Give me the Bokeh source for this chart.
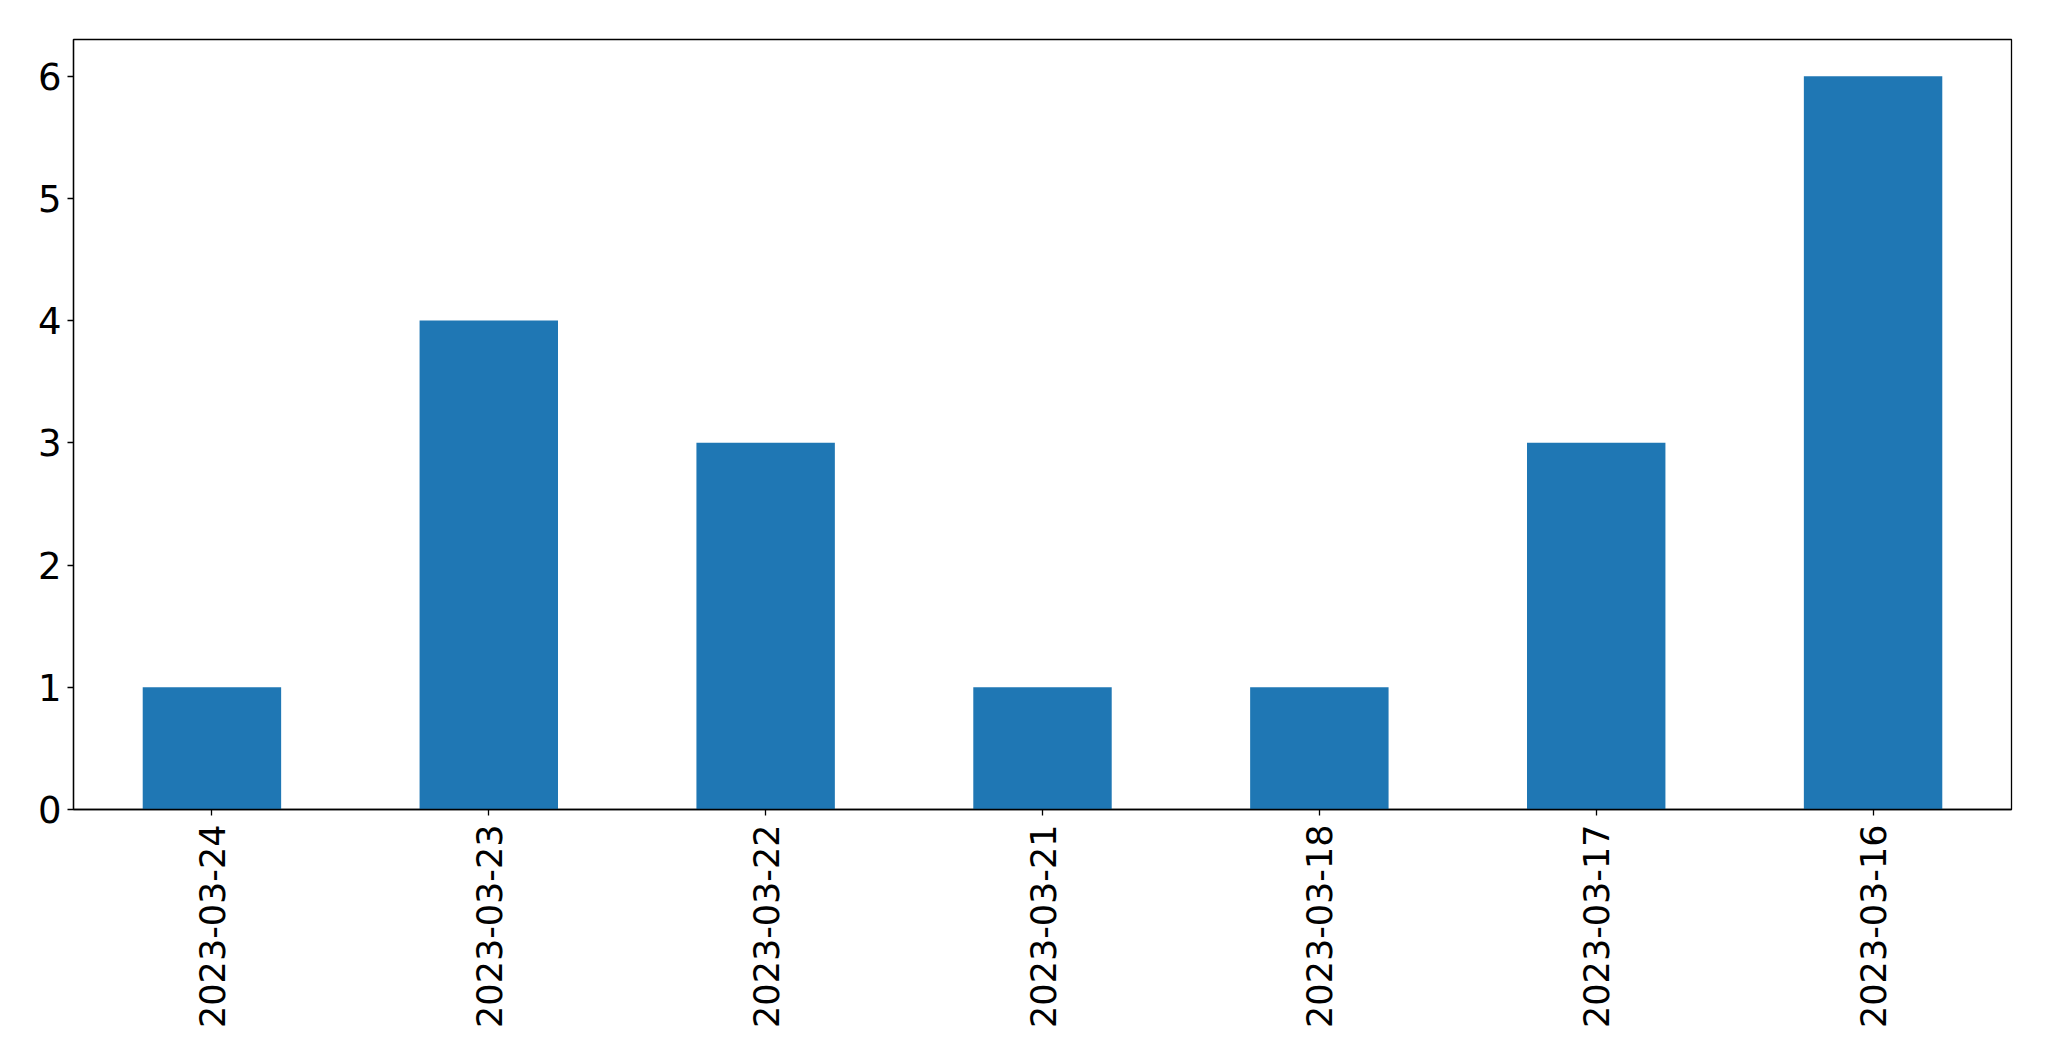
import math
from bokeh.plotting import figure
from bokeh.models import FactorRange, Range1d, ColumnDataSource, FixedTicker
from bokeh.embed import file_html
from bokeh.resources import INLINE

dates = ["2023-03-24", "2023-03-23", "2023-03-22", "2023-03-21",
         "2023-03-18", "2023-03-17", "2023-03-16"]
counts = [1, 4, 3, 1, 1, 3, 6]
y_ticks = [0, 1, 2, 3, 4, 5, 6]

src = ColumnDataSource(dict(x=dates, top=counts))

p = figure(x_range=FactorRange(*dates, range_padding=0), y_range=Range1d(0, 6.3),
           width=2030, height=1045, output_backend="svg", toolbar_location=None,
           min_border_left=73, min_border_top=39, min_border_right=19, min_border_bottom=236)

p.vbar(x="x", top="top", width=0.5, bottom=0, source=src,
       fill_color="#1f77b4", line_color=None)

p.xgrid.visible = False
p.ygrid.visible = False
p.outline_line_color = "black"
p.outline_line_width = 1.3
p.background_fill_color = "white"
p.border_fill_color = "white"

p.yaxis.ticker = FixedTicker(ticks=y_ticks)
for ax in (p.xaxis[0], p.yaxis[0]):
    ax.axis_line_color = "black"
    ax.axis_line_width = 1.3
    ax.major_tick_line_color = "black"
    ax.major_tick_line_width = 1.3
    ax.major_tick_out = 6
    ax.major_tick_in = 0
    ax.minor_tick_line_color = None
    ax.major_label_text_font = "DejaVu Sans"
    ax.major_label_text_color = "black"

p.xaxis.major_label_text_font_size = "35px"
p.yaxis.major_label_text_font_size = "37px"
p.xaxis.major_label_orientation = math.pi / 2
p.xaxis.major_label_standoff = 9
p.yaxis.major_label_standoff = 6

open("out.html", "w").write(file_html(p, INLINE))
